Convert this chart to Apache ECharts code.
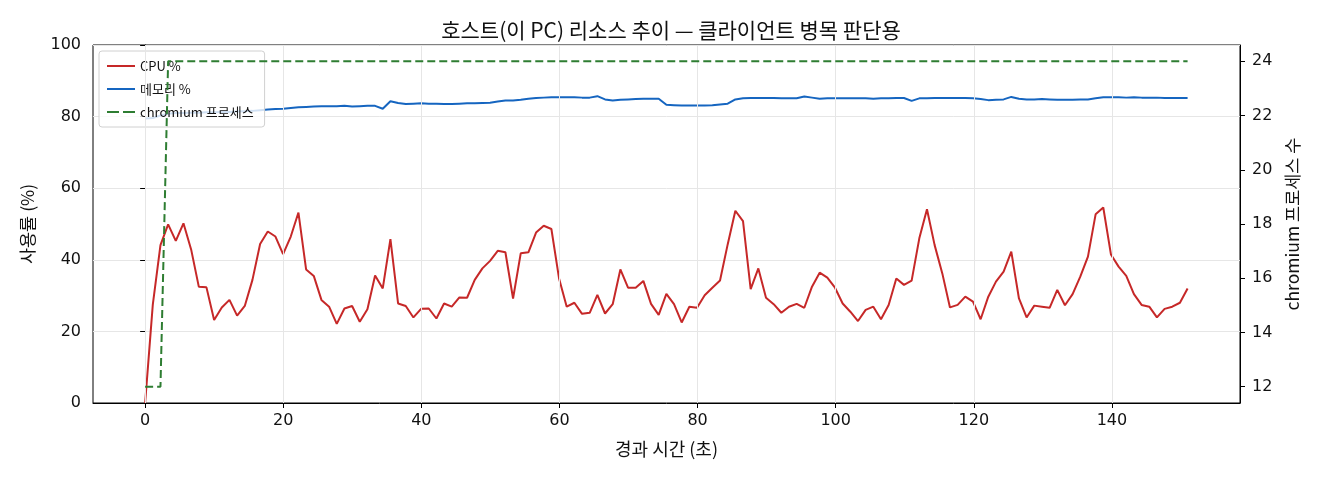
<!DOCTYPE html>
<html>
<head>
<meta charset="utf-8">
<script src="https://cdn.jsdelivr.net/npm/echarts@6/dist/echarts.min.js"></script>
<style>
html,body{margin:0;padding:0;background:#fff;}
#chart{width:1320px;height:480px;}
</style>
</head>
<body>
<div id="chart"></div>
<script>
const titleText = '호스트(이 PC) 리소스 추이 — 클라이언트 병목 판단용';
const xTicks = [0, 20, 40, 60, 80, 100, 120, 140];
const rightTicks = [12, 14, 16, 18, 20, 22, 24];

const times = [
0,1.11,2.22,3.33,4.44,5.55,6.66,7.77,8.88,9.99,
11.1,12.21,13.32,14.43,15.54,16.65,17.76,18.87,19.98,21.09,
22.2,23.31,24.42,25.53,26.64,27.75,28.86,29.97,31.08,32.19,
33.3,34.41,35.52,36.63,37.74,38.85,39.96,41.07,42.18,43.29,
44.4,45.51,46.62,47.73,48.84,49.95,51.06,52.17,53.28,54.39,
55.5,56.61,57.72,58.83,59.94,61.05,62.16,63.27,64.38,65.49,
66.6,67.71,68.82,69.93,71.04,72.15,73.26,74.37,75.48,76.59,
77.7,78.81,79.92,81.03,82.14,83.25,84.36,85.47,86.58,87.69,
88.8,89.91,91.02,92.13,93.24,94.35,95.46,96.57,97.68,98.79,
99.9,101.01,102.12,103.23,104.34,105.45,106.56,107.67,108.78,109.89,
111,112.11,113.22,114.33,115.44,116.55,117.66,118.77,119.88,120.99,
122.1,123.21,124.32,125.43,126.54,127.65,128.76,129.87,130.98,132.09,
133.2,134.31,135.42,136.53,137.64,138.75,139.86,140.97,142.08,143.19,
144.3,145.41,146.52,147.63,148.74,149.85,150.96
];

const cpu = [
0,27.5,44.1,49.9,45.3,50.2,42.9,32.5,32.3,23.2,
26.7,28.8,24.4,27.1,34.4,44.4,47.9,46.5,41.6,46.5,
53.2,37.3,35.5,28.8,26.9,22.1,26.4,27.1,22.7,26.2,
35.6,32.0,45.8,27.8,27.1,23.9,26.3,26.4,23.6,27.8,
26.9,29.5,29.4,34.4,37.6,39.7,42.5,42.1,29.2,41.8,
42.1,47.6,49.5,48.6,34.8,26.9,28.0,24.9,25.2,30.2,
25.0,27.6,37.3,32.2,32.2,34.1,27.7,24.6,30.5,27.6,
22.5,26.9,26.6,30.1,32.2,34.2,44.3,53.7,50.8,31.8,
37.6,29.4,27.6,25.2,26.9,27.7,26.6,32.5,36.4,35.0,
32.2,27.8,25.5,22.9,26.0,26.9,23.4,27.4,34.8,33.0,
34.2,46.0,54.1,44.1,36.2,26.7,27.4,29.7,28.3,23.4,
29.7,33.9,36.7,42.3,29.2,23.9,27.2,26.9,26.6,31.6,
27.3,30.4,35.3,40.9,52.7,54.6,41.5,38.1,35.5,30.4,
27.4,26.9,23.9,26.3,26.9,28.0,32.0
];

const memory = [
79.5,79.6,80.3,80.8,81.0,81.0,81.1,81.1,81.2,81.2,
81.3,81.3,81.4,81.5,81.6,81.8,82.0,82.1,82.2,82.4,
82.6,82.7,82.8,82.9,82.9,82.9,83.0,82.8,82.9,83.0,
83.0,82.2,84.3,83.8,83.5,83.6,83.7,83.6,83.6,83.5,
83.5,83.6,83.7,83.7,83.8,83.9,84.2,84.5,84.5,84.7,
85.0,85.2,85.3,85.4,85.4,85.4,85.4,85.3,85.3,85.7,
84.8,84.5,84.7,84.8,84.9,85.0,85.0,85.0,83.3,83.2,
83.1,83.1,83.1,83.1,83.2,83.4,83.6,84.8,85.1,85.2,
85.2,85.2,85.2,85.1,85.1,85.1,85.6,85.3,85.0,85.1,
85.1,85.1,85.1,85.1,85.1,85.0,85.1,85.1,85.2,85.2,
84.4,85.1,85.1,85.2,85.2,85.2,85.2,85.2,85.1,84.9,
84.6,84.7,84.8,85.5,85.0,84.8,84.8,84.9,84.8,84.7,
84.7,84.7,84.8,84.8,85.1,85.4,85.4,85.4,85.3,85.4,
85.3,85.3,85.3,85.2,85.2,85.2,85.2
];

const chromium = [
12,12,12,24,24,24,24,24,24,24,
24,24,24,24,24,24,24,24,24,24,
24,24,24,24,24,24,24,24,24,24,
24,24,24,24,24,24,24,24,24,24,
24,24,24,24,24,24,24,24,24,24,
24,24,24,24,24,24,24,24,24,24,
24,24,24,24,24,24,24,24,24,24,
24,24,24,24,24,24,24,24,24,24,
24,24,24,24,24,24,24,24,24,24,
24,24,24,24,24,24,24,24,24,24,
24,24,24,24,24,24,24,24,24,24,
24,24,24,24,24,24,24,24,24,24,
24,24,24,24,24,24,24,24,24,24,
24,24,24,24,24,24,24
];

const FONT = "'Noto Sans CJK KR', 'Noto Sans', sans-serif";
const NUMFONT = "'DejaVu Sans', 'Noto Sans CJK KR', sans-serif";
const pairs = (ys) => times.map((t, i) => [t, ys[i]]);

const SOLID_ICON = 'path://M0,0h28v2h-28z';
const DASH_ICON = 'path://M0,0h12v2h-12z M16,0h12v2h-12z';

const chart = echarts.init(document.getElementById('chart'), null, {renderer: 'canvas'});
chart.setOption({
  animation: false,
  backgroundColor: '#fff',
  textStyle: {fontFamily: FONT},
  title: {
    text: titleText,
    left: 666, top: 15, textAlign: 'center',
    textStyle: {fontFamily: FONT, fontSize: 21, fontWeight: 'normal', color: '#111'}
  },
  grid: {
    left: 93, right: 80, top: 45, bottom: 77,
    show: true, borderColor: '#000', borderWidth: 1, backgroundColor: 'transparent'
  },
  legend: {
    orient: 'vertical', left: 99, top: 51,
    padding: [8, 11, 8, 8],
    itemWidth: 28, itemHeight: 2, itemGap: 9,
    backgroundColor: 'rgba(255,255,255,0.8)',
    borderColor: '#d0d0d0', borderWidth: 1, borderRadius: 3,
    textStyle: {fontFamily: FONT, fontSize: 13, color: '#111', lineHeight: 14},
    data: [
      {name: 'CPU %', icon: SOLID_ICON},
      {name: '메모리 %', icon: SOLID_ICON},
      {name: 'chromium 프로세스', icon: DASH_ICON}
    ],
    z: 4
  },
  xAxis: {
    type: 'value', min: -7.55, max: 158.55,
    name: '경과 시간 (초)', nameLocation: 'middle', nameGap: 37,
    nameTextStyle: {fontFamily: FONT, fontSize: 18, color: '#111'},
    axisLine: {show: true, onZero: false, lineStyle: {color: '#000', width: 1}},
    axisTick: {show: true, length: 5, inside: false, customValues: xTicks, lineStyle: {color: '#000'}},
    axisLabel: {customValues: xTicks, fontFamily: NUMFONT, fontSize: 16, color: '#111', margin: 10},
    splitLine: {show: false}
  },
  yAxis: [
    {
      type: 'value', min: 0, max: 100, interval: 20, position: 'left',
      name: '사용률 (%)', nameLocation: 'middle', nameGap: 57, nameRotate: 90,
      nameTextStyle: {fontFamily: FONT, fontSize: 17.5, color: '#111'},
      axisLine: {show: true, lineStyle: {color: '#000', width: 1}},
      axisTick: {show: true, length: 5, lineStyle: {color: '#000'}},
      axisLabel: {fontFamily: NUMFONT, fontSize: 16, color: '#111', margin: 12},
      splitLine: {show: true, lineStyle: {color: '#e6e6e6', width: 1}}
    },
    {
      type: 'value', min: 11.4, max: 24.6, position: 'right',
      name: 'chromium 프로세스 수', nameLocation: 'middle', nameGap: 43, nameRotate: 90,
      nameTextStyle: {fontFamily: FONT, fontSize: 17.5, color: '#111'},
      axisLine: {show: true, lineStyle: {color: '#000', width: 1}},
      axisTick: {show: true, length: 5, customValues: rightTicks, lineStyle: {color: '#000'}},
      axisLabel: {customValues: rightTicks, fontFamily: NUMFONT, fontSize: 16, color: '#111', margin: 12},
      splitLine: {show: false}
    }
  ],
  series: [
    {
      name: '_grid', type: 'line', data: [], z: 1, silent: true,
      xAxisIndex: 0, yAxisIndex: 0,
      markLine: {
        silent: true, symbol: 'none', animation: false,
        label: {show: false},
        lineStyle: {color: '#e6e6e6', width: 1, type: 'solid'},
        data: xTicks.map(v => ({xAxis: v}))
      }
    },
    {
      name: 'CPU %', type: 'line', data: pairs(cpu), yAxisIndex: 0,
      showSymbol: false, symbol: 'none', z: 3,
      lineStyle: {color: '#c62828', width: 2}, itemStyle: {color: '#c62828'}
    },
    {
      name: '메모리 %', type: 'line', data: pairs(memory), yAxisIndex: 0,
      showSymbol: false, symbol: 'none', z: 3,
      lineStyle: {color: '#1565c0', width: 2}, itemStyle: {color: '#1565c0'}
    },
    {
      name: 'chromium 프로세스', type: 'line', data: pairs(chromium), yAxisIndex: 1,
      showSymbol: false, symbol: 'none', z: 5,
      lineStyle: {color: '#2e7d32', width: 2, type: [8, 4]}, itemStyle: {color: '#2e7d32'}
    }
  ]
});
</script>
</body>
</html>
